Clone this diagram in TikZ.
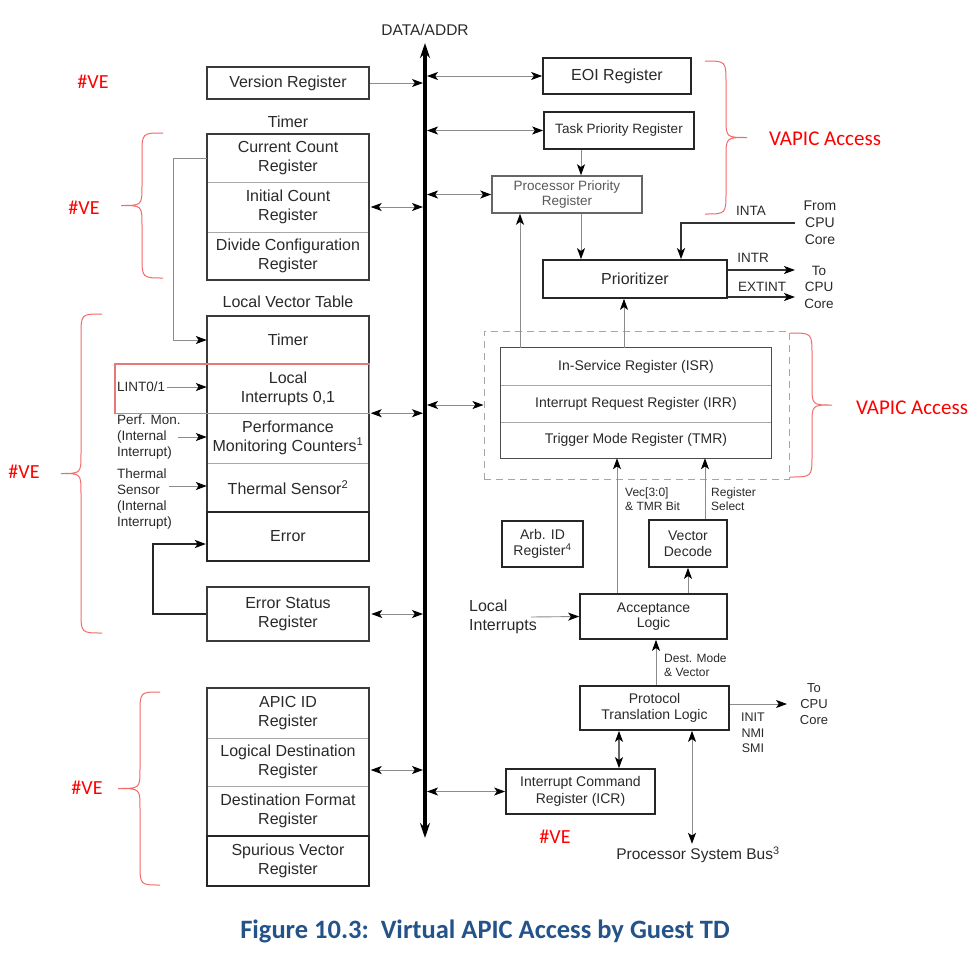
\documentclass[tikz,border=0pt]{standalone}
\usepackage{fontspec}
\setmainfont{Liberation Sans}
\newfontfamily\calib{Carlito}
\usetikzlibrary{arrows.meta,calc}
\definecolor{txt}{HTML}{2A2A2A}
\definecolor{frm}{HTML}{3A3A3A}
\definecolor{dvd}{HTML}{A8A8A8}
\definecolor{lin}{HTML}{8C8C8C}
\definecolor{vered}{HTML}{FF0000}
\definecolor{brc}{HTML}{F26B6B}
\definecolor{hlred}{HTML}{E57878}
\definecolor{capblue}{HTML}{24538A}
\newcommand\bracepath[5]{%
 \draw[bracestyle] (#1,#4) .. controls (#2,#4) .. (#2,{#4+22}) -- (#2,{(#4+#5)/2-20}) .. controls (#2,{(#4+#5)/2}) .. (#3,{(#4+#5)/2}) .. controls (#2,{(#4+#5)/2}) .. (#2,{(#4+#5)/2+20}) -- (#2,{#5-22}) .. controls (#2,#5) .. (#1,#5);}
\begin{document}
\begin{tikzpicture}[x=1pt,y=-1pt,
 lbl/.style={text=txt,inner sep=0pt,align=center},
 fB/.style={font=\fontsize{16}{19}\selectfont},
 fM/.style={font=\fontsize{14}{15.5}\selectfont},
 fT/.style={font=\fontsize{13.5}{16}\selectfont},
 fS/.style={font=\fontsize{12}{14}\selectfont},
 cell/.style={lbl,fB,minimum width=162pt},
 rcell/.style={lbl,fM,minimum width=270pt},
 frame/.style={draw=frm,line width=1.6pt},
 heavy/.style={draw=black!85,line width=2.2pt},
 divider/.style={draw=dvd,line width=0.9pt},
 rbox/.style={lbl,draw=black!85,line width=1.7pt},
 tipA/.tip={Stealth[length=11pt,width=8pt,inset=2.8pt,color=black]},
 arr/.style={draw=lin,line width=0.9pt,-tipA},
 darr/.style={draw=lin,line width=0.9pt,tipA-tipA},
 darkarr/.style={draw=black!80,line width=1.8pt,-tipA},
 bracestyle/.style={draw=brc,line width=1pt},
 red/.style={text=vered,inner sep=0pt,font={\calib\fontsize{20}{24}\selectfont}},
 redbig/.style={text=vered,inner sep=0pt,font={\calib\fontsize{21}{24}\selectfont}},
 note/.style={text=txt,inner sep=0pt,align=left,fT},
]
\useasboundingbox[fill=white] (0,0) rectangle (978,959);

% ---------- bus ----------
\coordinate (busT) at (425,43);
\coordinate (busB) at (425,838);
\draw[line width=3.5pt,{Stealth[length=15pt,width=10pt]}-{Stealth[length=15pt,width=10pt]}] (busB) -- (busT);
\node[lbl,font=\fontsize{15.5}{18}\selectfont] (dataaddr) at (425,30) {DATA/ADDR};

% ---------- left column ----------
\node[cell,frame,minimum height=32pt] (ver) at (288,83) {Version Register};
\node[lbl,fB] (timerlbl) at (288,122) {Timer};
\node[cell,minimum height=48pt] (cc) at (288,158) {Current Count\\Register};
\node[cell,minimum height=50pt] (ic) at (288,207) {Initial Count\\Register};
\node[cell,minimum height=48pt] (dc) at (288,256) {Divide Configuration\\Register};
\draw[divider] (cc.south west) -- (cc.south east);
\draw[divider] (ic.south west) -- (ic.south east);
\draw[frame] (cc.north west) rectangle (dc.south east);

\node[lbl,fB] (lvtlbl) at (288,302) {Local Vector Table};
\node[cell,minimum height=48pt] (lvt) at (288,340) {Timer};
\node[cell,minimum height=49pt] (lvl) at (288,388.5) {Local\\Interrupts 0,1};
\node[cell,minimum height=50pt] (lvp) at (288,438) {Performance\\Monitoring Counters\textsuperscript{1}};
\node[cell,minimum height=49pt] (lvth) at (288,487.5) {Thermal Sensor\textsuperscript{2}};
\draw[divider] (lvt.south west) -- (lvt.south east);
\draw[divider] (lvl.south west) -- (lvl.south east);
\draw[divider] (lvp.south west) -- (lvp.south east);
\draw[frame] (lvt.north west) rectangle (lvth.south east);
\node[cell,heavy,minimum height=49pt] (err) at (288,536.5) {Error};
\node[cell,frame,minimum height=54pt] (esr) at (288,614) {Error Status\\Register};

\node[cell,minimum height=50pt] (aid) at (288,713) {APIC ID\\Register};
\node[cell,minimum height=48pt] (ldr) at (288,762) {Logical Destination\\Register};
\node[cell,minimum height=50pt] (dfr) at (288,811) {Destination Format\\Register};
\draw[divider] (aid.south west) -- (aid.south east);
\draw[divider] (ldr.south west) -- (ldr.south east);
\draw[frame] (aid.north west) rectangle (dfr.south east);
\node[cell,heavy,minimum height=50pt] (svr) at (288,861) {Spurious Vector\\Register};

% left inputs
\node[note,anchor=west] (lint) at (117,387) {LINT0/1};
\node[note,anchor=west] (perf) at (117,437) {Perf. Mon.\\(Internal\\Interrupt)};
\node[note,anchor=west] (therm) at (117,499) {Thermal\\Sensor\\(Internal\\Interrupt)};
\draw[arr] ([xshift=2pt]lint.east) -- (lint.east -| lvl.west);
\draw[arr] ([xshift=-3pt]perf.east) -- (perf.east -| lvp.west);
\coordinate (thA) at ([shift={(-3pt,13pt)}]therm.east);
\draw[arr] (thA) -- (thA -| lvth.west);

% timer feed and error loop
\coordinate (xTF) at (173,0);
\draw[arr] (cc.west) -- (cc.west -| xTF) |- (lvt.west);
\coordinate (xLoop) at (153,0);
\coordinate (errIn) at ([yshift=-7.5pt]err.west);
\draw[heavy,-tipA] (esr.west) -- (esr.west -| xLoop) |- (errIn);

% highlight box
\draw[draw=hlred,line width=1.4pt] ([xshift=-92pt]lvl.north west) rectangle (lvl.south east);

% left to bus
\draw[arr,shorten >=2pt] (ver.east) -- (ver.east -| busT);
\draw[darr,shorten >=2pt,shorten <=1.5pt] (ic.east) -- (ic.east -| busT);
\draw[darr,shorten >=2pt,shorten <=1.5pt] (lvl.south east) -- (lvl.south east -| busT);
\draw[darr,shorten >=2pt,shorten <=1.5pt] (esr.east) -- (esr.east -| busT);
\coordinate (ldrOut) at ([yshift=-8pt]ldr.east);
\draw[darr,shorten >=2pt,shorten <=1.5pt] (ldrOut) -- (ldrOut -| busT);

% ---------- right side ----------
\node[rbox,fB,minimum width=148pt,minimum height=36pt] (eoi) at (617,76) {EOI Register};
\node[rbox,fM,font=\fontsize{13.5}{15.5}\selectfont,minimum width=150pt,minimum height=37pt] (tpr) at (619,130.5) {Task Priority Register};
\node[lbl,draw=black!60,line width=1.5pt,text=black!65,font=\fontsize{13.5}{15.5}\selectfont,minimum width=150pt,minimum height=37pt] (ppr) at (567,194.5) {Processor Priority\\Register};
\node[rbox,fB,minimum width=184pt,minimum height=38pt] (prio) at (635,279) {Prioritizer};

\node[draw=black!35,line width=1pt,dash pattern=on 7pt off 5pt,minimum width=305pt,minimum height=148pt,inner sep=0pt] (vbox) at (636.5,405) {};
\node[rcell,minimum height=37pt] (isr) at (636,366.5) {In-Service Register (ISR)};
\node[rcell,minimum height=37pt] (irr) at (636,403.5) {Interrupt Request Register (IRR)};
\node[rcell,minimum height=36pt] (tmr) at (636,440) {Trigger Mode Register (TMR)};
\draw[divider] (isr.south west) -- (isr.south east);
\draw[divider] (irr.south west) -- (irr.south east);
\draw[draw=black!70,line width=1.3pt] (isr.north west) rectangle (tmr.south east);

\node[rbox,fM,minimum width=81pt,minimum height=46pt] (arb) at (542.5,544) {Arb. ID\\Register\textsuperscript{4}};
\node[rbox,fM,minimum width=78pt,minimum height=47pt] (vd) at (688,543.5) {Vector\\Decode};
\node[rbox,fM,minimum width=147pt,minimum height=45pt] (al) at (653.5,616.5) {Acceptance\\Logic};
\node[rbox,fM,minimum width=149pt,minimum height=44pt] (ptl) at (654.5,708) {Protocol\\Translation Logic};
\node[rbox,fM,font=\fontsize{14}{17}\selectfont,minimum width=149pt,minimum height=45pt] (icr) at (580.5,791.5) {Interrupt Command\\Register (ICR)};

% right labels
\node[lbl,font=\fontsize{14}{17}\selectfont] (fromcpu) at (820,223) {From\\CPU\\Core};
\node[lbl,font=\fontsize{13.5}{16.5}\selectfont] (tocpu1) at (819,287) {To\\CPU\\Core};
\node[lbl,fT] (inta) at (751,211) {INTA};
\node[lbl,fT] (intrl) at (753,258) {INTR};
\node[lbl,fT] (extl) at (762,287) {EXTINT};
\node[note,fS,anchor=west] (veclbl) at (625,499) {Vec[3:0]\\\& TMR Bit};
\node[note,fS,anchor=west] (rslbl) at (711,499) {Register\\Select};
\node[note,fS,font=\fontsize{12}{13.5}\selectfont,anchor=west] (dmlbl) at (664,665) {Dest. Mode\\\& Vector};
\node[note,fB,anchor=west] (li) at (469,617) {Local\\Interrupts};
\node[lbl,font=\fontsize{13}{16}\selectfont] (tocpu2) at (814,704) {To\\CPU\\Core};
\node[lbl,font=\fontsize{12.5}{15.5}\selectfont] (init) at (753,733) {INIT\\NMI\\SMI};
\node[lbl,font=\fontsize{15.5}{18}\selectfont] (psb) at (698,855) {Processor System Bus\textsuperscript{3}};

% right connectors
\coordinate (xPP) at (581,0);
\coordinate (xIS) at (520,0);
\coordinate (xIP) at (624,0);
\coordinate (xINTA) at (681,0);
\coordinate (xVec) at (617,0);
\coordinate (xRS) at (705,0);
\coordinate (xDM) at (656,0);
\coordinate (xICR) at (619,0);
\coordinate (xPSB) at (692,0);
\coordinate (intaS) at (795,223);
\coordinate (intrE) at (795,270);
\coordinate (extE) at (795,297);
\coordinate (ptlE) at (787,704);

\draw[darr,shorten <=2pt] (eoi.west -| busT) -- (eoi.west);
\draw[darr,shorten <=2pt] (tpr.west -| busT) -- (tpr.west);
\draw[darr,shorten <=2pt] (ppr.west -| busT) -- (ppr.west);
\draw[darr,shorten <=2pt] (vbox.west -| busT) -- (vbox.west);
\draw[darr,shorten <=2pt] (icr.west -| busT) -- (icr.west);

\draw[arr] (tpr.south -| xPP) -- (ppr.north -| xPP);
\draw[arr] (ppr.south -| xPP) -- (prio.north -| xPP);
\draw[arr] (isr.north -| xIS) -- (ppr.south -| xIS);
\draw[arr] (isr.north -| xIP) -- (prio.south -| xIP);
\draw[darkarr] (intaS) -| (prio.north -| xINTA);
\draw[draw=black!80,line width=1.5pt,-tipA] (prio.east |- intrE) -- (intrE);
\draw[draw=black!80,line width=1.5pt,-tipA] (prio.east |- extE) -- (extE);

\draw[arr] (al.north -| xVec) -- (tmr.south -| xVec);
\draw[arr] (vd.north -| xRS) -- (tmr.south -| xRS);
\draw[arr] (al.north -| vd.south) -- (vd.south);
\draw[arr] ([xshift=-6pt]li.east) -- (al.west);
\draw[arr] (ptl.north -| xDM) -- (al.south -| xDM);
\draw[arr] (ptl.east |- ptlE) -- (ptlE);
\draw[darr,line width=1.3pt,draw=black!60] (ptl.south -| xICR) -- (icr.north -| xICR);
\draw[darr] (ptl.south -| xPSB) -- ([yshift=3pt]psb.north -| xPSB);

% ---------- annotations ----------
\bracepath{163}{142}{121}{133}{278}
\bracepath{102}{81}{61}{314}{633}
\bracepath{160}{140}{118}{692}{885}
\bracepath{705}{726}{747}{61}{214}
\bracepath{790}{812}{832}{333}{477}

\node[red] (ve1) at (93,82) {\#VE};
\node[red] (ve2) at (84,208) {\#VE};
\node[red] (ve3) at (24,472) {\#VE};
\node[red] (ve4) at (87,788) {\#VE};
\node[red] (ve5) at (555,837) {\#VE};
\node[redbig] (va1) at (825,139) {VAPIC Access};
\node[redbig] (va2) at (912,408) {VAPIC Access};

\node[inner sep=0pt,text=capblue,font={\calib\bfseries\fontsize{26.5}{30}\selectfont}] (cap) at (485,931) {Figure 10.3:\ \ Virtual APIC Access by Guest TD};
\end{tikzpicture}
\end{document}
